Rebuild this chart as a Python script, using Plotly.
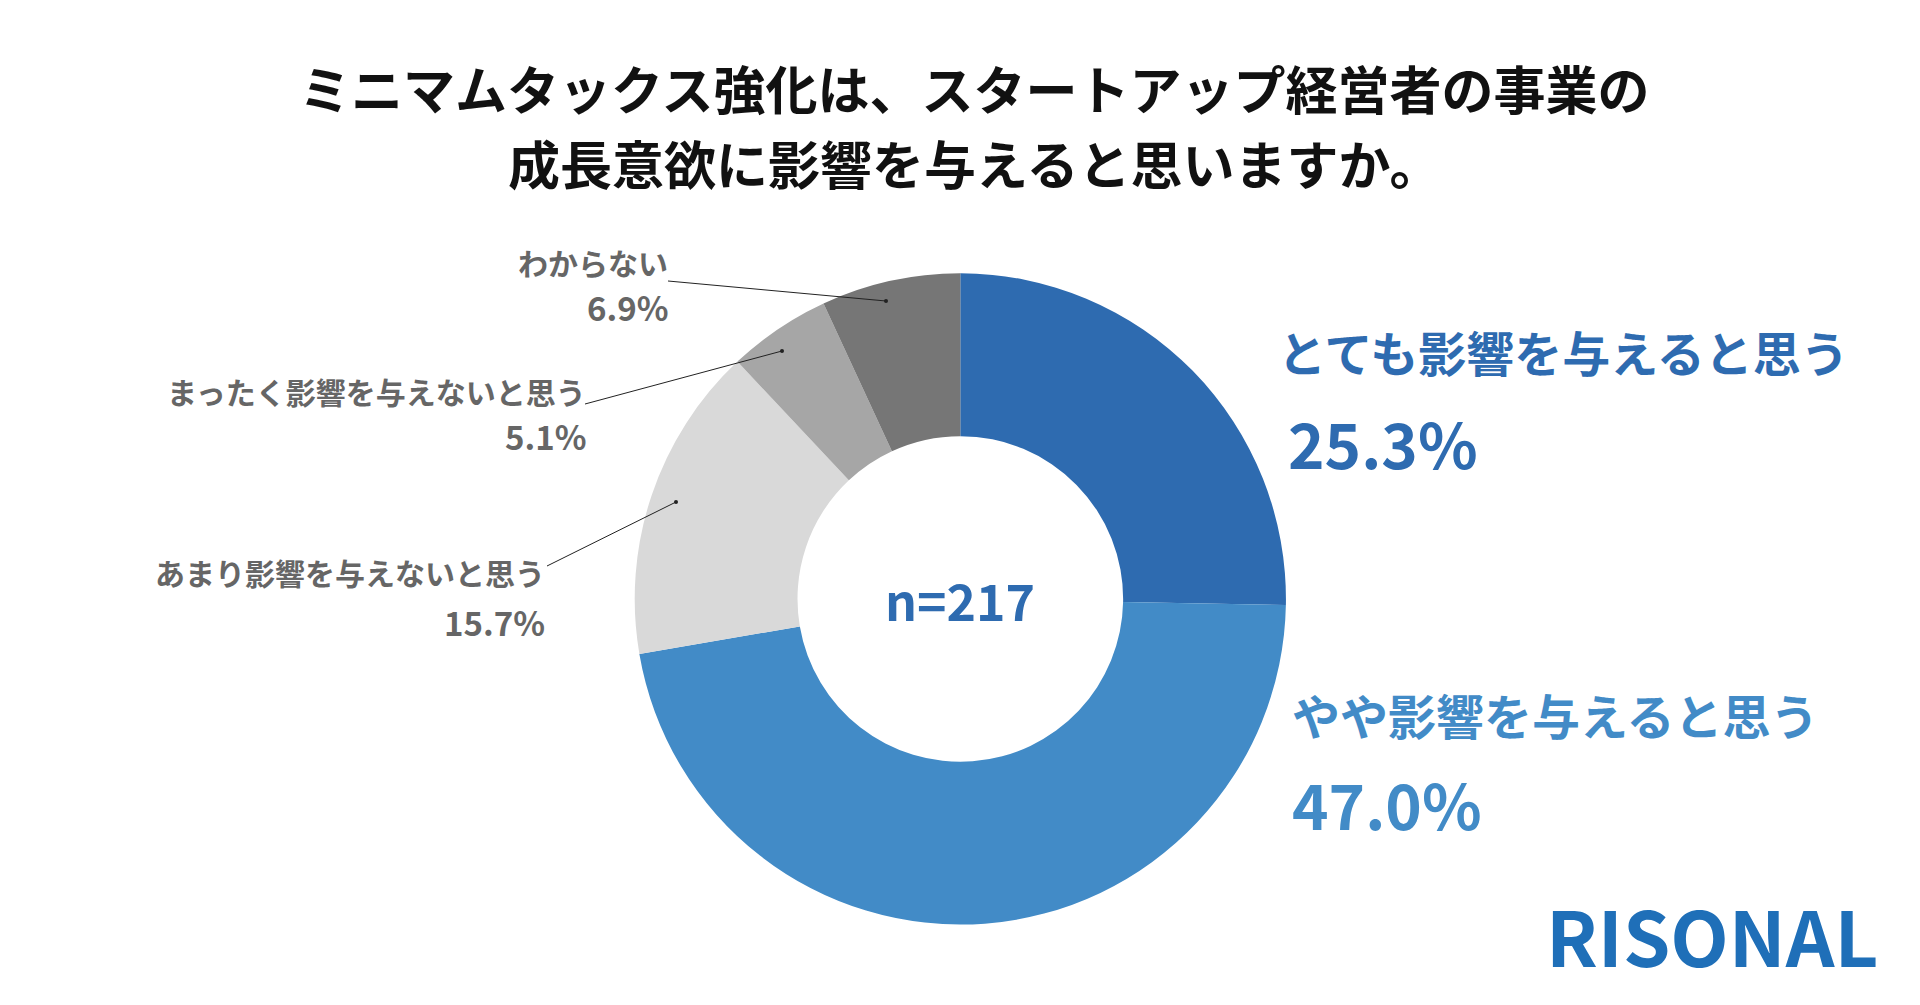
import plotly.graph_objects as go

W, H = 1920, 1005

def px(x, y):
    """Convert pixel position to paper coordinates."""
    return x / W, 1 - y / H

def plot_data(labels, values, colors):
    fig = go.Figure()

    fig.add_trace(go.Pie(
        labels=labels,
        values=values,
        hole=0.5,
        sort=False,
        direction='clockwise',
        rotation=0,
        marker=dict(colors=colors, line=dict(color='white', width=0)),
        textinfo='none',
        hoverinfo='label+percent',
        showlegend=False,
        domain=dict(x=[0.326, 0.666], y=[0.088, 0.736])
    ))

    font = 'Noto Sans CJK JP'
    annotations = []

    def add_text(x, y, text, size, color, anchor='center', bold=True):
        ax, ay = px(x, y)
        annotations.append(dict(
            x=ax, y=ay, xref='paper', yref='paper', showarrow=False,
            xanchor=anchor, yanchor='middle',
            text=f"<b>{text}</b>" if bold else text,
            font=dict(family=font, size=size, color=color)
        ))

    # Title
    add_text(966, 80, 'ミニマムタックス強化は、スタートアップ経営者の事業の', 52, '#111111')
    add_text(966, 154, '成長意欲に影響を与えると思いますか。', 52, '#111111')

    # Right side labels
    add_text(1268, 343, 'とても影響を与えると思う', 48, colors[0], 'left')
    add_text(1278, 434, '25.3%', 62, colors[0], 'left')
    add_text(1282, 706, 'やや影響を与えると思う', 48, colors[1], 'left')
    add_text(1282, 795, '47.0%', 62, colors[1], 'left')

    # Left side labels
    gray = '#666666'
    add_text(662, 254, 'わからない', 30, gray, 'right')
    add_text(662, 299, '6.9%', 33, gray, 'right')
    add_text(580, 383, 'まったく影響を与えないと思う', 30, gray, 'right')
    add_text(580, 428, '5.1%', 33, gray, 'right')
    add_text(539, 564, 'あまり影響を与えないと思う', 30, gray, 'right')
    add_text(539, 614, '15.7%', 33, gray, 'right')

    # Center and logo
    add_text(952, 591, 'n=217', 50, colors[0])
    add_text(1872, 926, 'RISONAL', 76, '#1F6FB8', 'right')

    # Leader lines
    shapes = []
    for (x0, y0, x1, y1) in [(660, 273, 878, 293), (577, 396, 774, 343), (539, 558, 668, 494)]:
        a0, b0 = px(x0, y0)
        a1, b1 = px(x1, y1)
        shapes.append(dict(type='line', xref='paper', yref='paper', x0=a0, y0=b0, x1=a1, y1=b1,
                           line=dict(color='#222222', width=1)))
        shapes.append(dict(type='circle', xref='paper', yref='paper',
                           x0=a1 - 2 / W, x1=a1 + 2 / W, y0=b1 - 2 / H, y1=b1 + 2 / H,
                           fillcolor='#222222', line=dict(width=0)))

    fig.update_layout(
        width=W, height=H,
        margin=dict(l=0, r=0, t=0, b=0),
        paper_bgcolor='white',
        plot_bgcolor='white',
        annotations=annotations,
        shapes=shapes
    )

    fig.write_html("out.html")

labels = ['とても影響を与えると思う', 'やや影響を与えると思う', 'あまり影響を与えないと思う',
          'まったく影響を与えないと思う', 'わからない']
values = [25.3, 47.0, 15.7, 5.1, 6.9]
colors = ['#2E6BB0', '#428BC7', '#D9D9D9', '#A6A6A6', '#767676']
plot_data(labels, values, colors)
